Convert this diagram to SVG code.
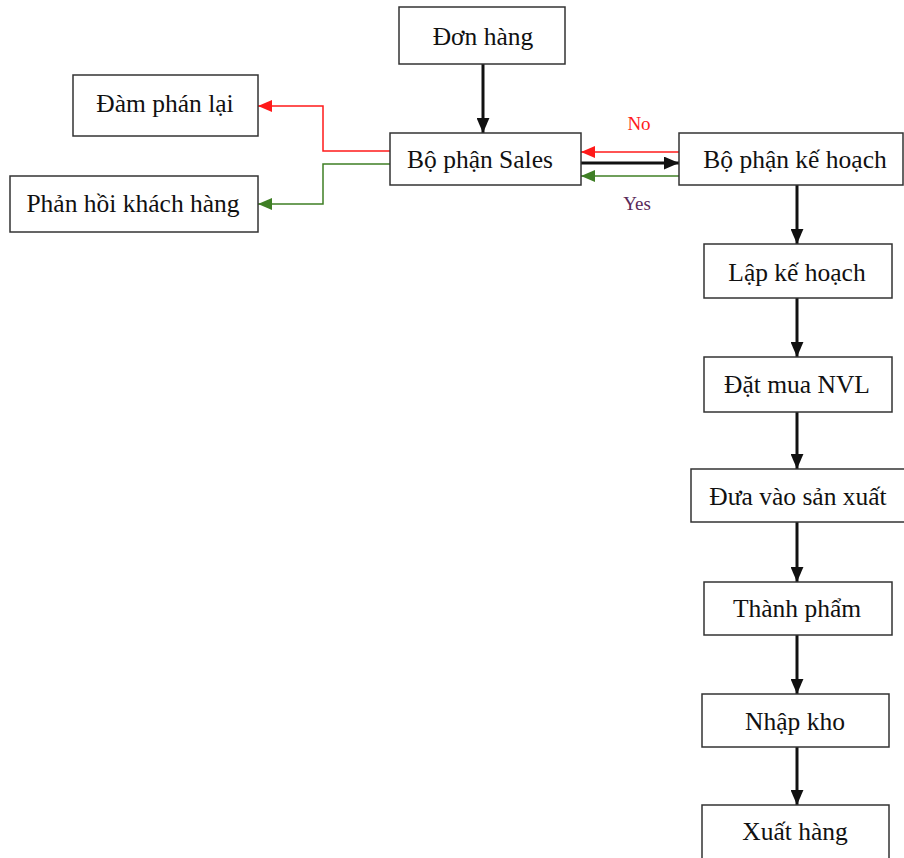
<svg xmlns="http://www.w3.org/2000/svg" width="904" height="858" viewBox="0 0 904 858">
  <style>
    .box { fill: #ffffff; stroke: #333333; stroke-width: 1.5; }
    .lbl { font-family: "Liberation Serif", "Times New Roman", serif; font-size: 25.5px; fill: #111111; text-anchor: middle; }
    .tag { font-family: "Liberation Serif", "Times New Roman", serif; font-size: 19px; text-anchor: middle; }
    .flow { fill: none; stroke: #111111; stroke-width: 3; }
    .no { fill: none; stroke: #ff1a1a; stroke-width: 1.5; }
    .yes { fill: none; stroke: #3f7f25; stroke-width: 1.5; }
  </style>
  <defs>
    <marker id="ahBlack" viewBox="0 0 14 12" refX="14" refY="6" markerWidth="15" markerHeight="13" markerUnits="userSpaceOnUse" orient="auto">
      <path d="M0,0 L14,6 L0,12 Z" fill="#111111"/>
    </marker>
    <marker id="ahRed" viewBox="0 0 14 12" refX="14" refY="6" markerWidth="14" markerHeight="12" markerUnits="userSpaceOnUse" orient="auto">
      <path d="M0,0 L14,6 L0,12 Z" fill="#ff1a1a"/>
    </marker>
    <marker id="ahGreen" viewBox="0 0 14 12" refX="14" refY="6" markerWidth="14" markerHeight="12" markerUnits="userSpaceOnUse" orient="auto">
      <path d="M0,0 L14,6 L0,12 Z" fill="#3f7f25"/>
    </marker>
  </defs>

  <rect width="904" height="858" fill="#ffffff"/>

  <!-- connectors -->
  <g id="connectors">
    <line class="flow" x1="483" y1="64" x2="483" y2="133" marker-end="url(#ahBlack)"/>
    <line class="flow" x1="581" y1="163" x2="679" y2="163" marker-end="url(#ahBlack)"/>
    <line class="no" x1="679" y1="152" x2="581" y2="152" marker-end="url(#ahRed)"/>
    <line class="yes" x1="679" y1="176" x2="581" y2="176" marker-end="url(#ahGreen)"/>
    <polyline class="no" points="390,151 323,151 323,106 258,106" marker-end="url(#ahRed)"/>
    <polyline class="yes" points="390,164 323,164 323,204 258,204" marker-end="url(#ahGreen)"/>
    <line class="flow" x1="797" y1="185" x2="797" y2="244" marker-end="url(#ahBlack)"/>
    <line class="flow" x1="797" y1="298" x2="797" y2="357" marker-end="url(#ahBlack)"/>
    <line class="flow" x1="797" y1="412" x2="797" y2="469" marker-end="url(#ahBlack)"/>
    <line class="flow" x1="797" y1="522" x2="797" y2="582" marker-end="url(#ahBlack)"/>
    <line class="flow" x1="797" y1="635" x2="797" y2="694" marker-end="url(#ahBlack)"/>
    <line class="flow" x1="797" y1="747" x2="797" y2="805" marker-end="url(#ahBlack)"/>
    <text class="tag" x="639" y="130" fill="#ff1a1a">No</text>
    <text class="tag" x="637" y="210" fill="#5a2a5a">Yes</text>
  </g>

  <!-- nodes -->
  <g id="don-hang">
    <rect class="box" x="399" y="7" width="166" height="57"/>
    <text class="lbl" x="483" y="45">Đơn hàng</text>
  </g>
  <g id="bo-phan-sales">
    <rect class="box" x="390" y="133" width="191" height="52"/>
    <text class="lbl" x="480" y="168">Bộ phận Sales</text>
  </g>
  <g id="bo-phan-ke-hoach">
    <rect class="box" x="679" y="133" width="224" height="52"/>
    <text class="lbl" x="795" y="168">Bộ phận kế hoạch</text>
  </g>
  <g id="dam-phan-lai">
    <rect class="box" x="73" y="75" width="185" height="61"/>
    <text class="lbl" x="165" y="112">Đàm phán lại</text>
  </g>
  <g id="phan-hoi-khach-hang">
    <rect class="box" x="10" y="176" width="248" height="56"/>
    <text class="lbl" x="133" y="212">Phản hồi khách hàng</text>
  </g>
  <g id="lap-ke-hoach">
    <rect class="box" x="704" y="244" width="188" height="54"/>
    <text class="lbl" x="797" y="281">Lập kế hoạch</text>
  </g>
  <g id="dat-mua-nvl">
    <rect class="box" x="704" y="357" width="188" height="55"/>
    <text class="lbl" x="797" y="393">Đặt mua NVL</text>
  </g>
  <g id="dua-vao-san-xuat">
    <rect class="box" x="691" y="469" width="215" height="53"/>
    <text class="lbl" x="798" y="505">Đưa vào sản xuất</text>
  </g>
  <g id="thanh-pham">
    <rect class="box" x="704" y="582" width="188" height="53"/>
    <text class="lbl" x="797" y="617">Thành phẩm</text>
  </g>
  <g id="nhap-kho">
    <rect class="box" x="702" y="694" width="187" height="53"/>
    <text class="lbl" x="795" y="730">Nhập kho</text>
  </g>
  <g id="xuat-hang">
    <rect class="box" x="702" y="805" width="187" height="60"/>
    <text class="lbl" x="795" y="840">Xuất hàng</text>
  </g>
</svg>
